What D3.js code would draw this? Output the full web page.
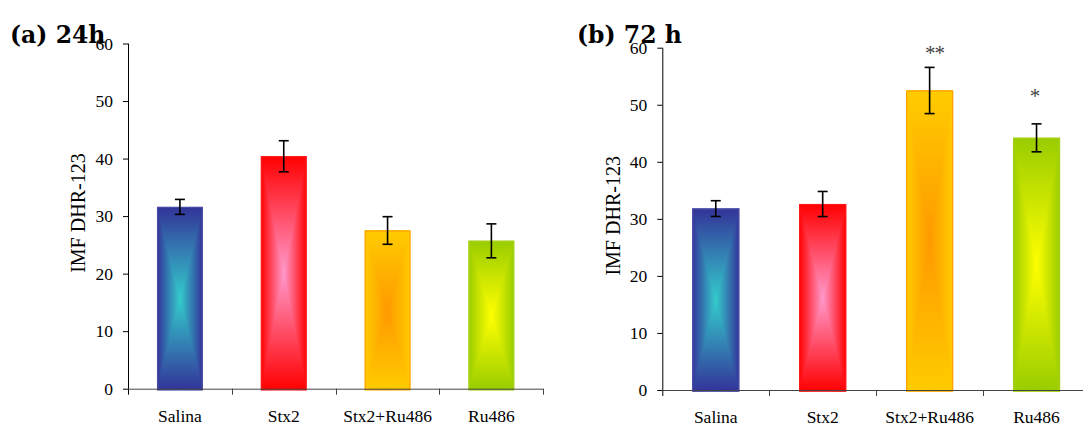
<!DOCTYPE html>
<html>
<head>
<meta charset="utf-8">
<script src="https://cdn.jsdelivr.net/npm/d3@7"></script>
<style>
  body { margin: 0; background: #fff; }
  svg { display: block; }
</style>
</head>
<body>
<svg id="chart" width="1083" height="426" font-family="Liberation Serif, Times New Roman, serif"></svg>
<script>
// Treatment groups and tick values
const categories = ["Salina", "Stx2", "Stx2+Ru486", "Ru486"];
const yTicks = [0, 10, 20, 30, 40, 50, 60];

// (a) 24 h: mean fluorescence (IMF DHR-123) and SEM
const mean24h = [31.6, 40.4, 27.5, 25.7];
const sem24h = [1.3, 2.7, 2.4, 2.95];

// (b) 72 h: mean fluorescence and SEM, with significance marks
const mean72h = [31.8, 32.6, 52.5, 44.2];
const sem72h = [1.38, 2.2, 4.05, 2.45];
const signif72h = ["", "", "**", "*"];
const signifLevel72h = [null, null, 57.8, 50.3];

// Bar fills: colour at the bar edges and at its centre
const edgeColors = ["#333399", "#ff0000", "#ffcc00", "#99cc00"];
const centreColors = ["#33cccc", "#ff99cc", "#ff9900", "#ffff00"];
const outlineColors = ["#4a4aa6", "#ff1a1a", "#ffa000", "#a6d01a"];

const SERIF = "Liberation Serif, Times New Roman, serif";
const svg = d3.select("#chart");
const defs = svg.append("defs");

// Three directional gradients per colour scheme; combined they give a
// rectangular "from centre" shading on each bar.
categories.forEach((c, i) => {
  const mk = (id, x2, y2, stops) => {
    const g = defs.append("linearGradient").attr("id", id)
      .attr("x1", 0).attr("y1", 0).attr("x2", x2).attr("y2", y2);
    stops.forEach((s, k) => g.append("stop")
      .attr("offset", k / (stops.length - 1)).attr("stop-color", s));
  };
  mk(`gh${i}`, 1, 0, [edgeColors[i], centreColors[i], edgeColors[i]]);
  mk(`gt${i}`, 0, 1, [edgeColors[i], centreColors[i]]);
  mk(`gb${i}`, 0, 1, [centreColors[i], edgeColors[i]]);
});

function drawPanel(opt) {
  const { title, titleX, left, right, top, bottom, means, sems, marks, markLevels, labelX } = opt;
  const g = svg.append("g");

  const x = d3.scaleBand().domain(categories).range([left, right]).paddingInner(0).paddingOuter(0);
  const y = d3.scaleLinear().domain([0, 60]).range([bottom, top]);
  const barW = x.bandwidth() * 0.44;
  const rows = categories.map((c, i) => ({
    c, i, mean: means[i], sem: sems[i],
    mark: marks ? marks[i] : "", level: markLevels ? markLevels[i] : null
  }));

  // bars
  g.selectAll("g.bar").data(rows).join("g").attr("class", "bar").each(function (d) {
    const b = d3.select(this);
    const x0 = x(d.c) + (x.bandwidth() - barW) / 2, x1 = x0 + barW;
    const y0 = y(d.mean), y1 = y(0) + 1.5;
    const cx = (x0 + x1) / 2, cy = (y0 + y1) / 2;
    b.append("rect").attr("x", x0).attr("y", y0).attr("width", barW).attr("height", y1 - y0)
      .attr("fill", `url(#gh${d.i})`);
    b.append("path").attr("d", `M${x0},${y0}L${x1},${y0}L${cx},${cy}Z`).attr("fill", `url(#gt${d.i})`);
    b.append("path").attr("d", `M${x0},${y1}L${x1},${y1}L${cx},${cy}Z`).attr("fill", `url(#gb${d.i})`);
    b.append("rect").attr("x", x0 + 0.5).attr("y", y0 + 0.5).attr("width", barW - 1).attr("height", y1 - y0 - 1)
      .attr("fill", "none").attr("stroke", outlineColors[d.i]).attr("stroke-width", 1.2);
  });

  // error bars
  g.selectAll("g.err").data(rows).join("g").attr("class", "err")
    .attr("stroke", "#000").attr("stroke-width", 1.6)
    .each(function (d) {
      const e = d3.select(this);
      const cx = x(d.c) + x.bandwidth() / 2;
      const hi = y(d.mean + d.sem), lo = y(d.mean - d.sem);
      e.append("line").attr("x1", cx).attr("x2", cx).attr("y1", hi).attr("y2", lo);
      e.append("line").attr("x1", cx - 5).attr("x2", cx + 5).attr("y1", hi).attr("y2", hi);
      e.append("line").attr("x1", cx - 5).attr("x2", cx + 5).attr("y1", lo).attr("y2", lo);
    });

  // significance marks
  g.selectAll("text.sig").data(rows.filter(d => d.mark)).join("text").attr("class", "sig")
    .attr("x", d => x(d.c) + x.bandwidth() / 2 + (d.mark.length > 1 ? 5 : -2))
    .attr("y", d => y(d.level))
    .attr("text-anchor", "middle").attr("font-family", SERIF).attr("font-size", 21)
    .attr("letter-spacing", -1).attr("fill", "#444")
    .text(d => d.mark);

  // y axis
  const ya = g.append("g").attr("transform", `translate(${left},0)`)
    .call(d3.axisLeft(y).tickValues(yTicks).tickSize(5).tickSizeOuter(0).tickPadding(10));
  ya.select(".domain").attr("stroke", "#000").attr("d", `M0.5,${top}V${bottom + 6}`);
  ya.selectAll(".tick line").attr("stroke", "#000");
  ya.selectAll(".tick text").attr("font-size", 17.5).attr("fill", "#000").attr("font-family", SERIF);

  // x axis
  const xa = g.append("g").attr("transform", `translate(0,${bottom})`)
    .call(d3.axisBottom(x).tickSize(0).tickPadding(21));
  xa.select(".domain").attr("stroke", "#444").attr("d", `M${left},0.5H${right}`);
  xa.selectAll(".tick text").attr("font-size", 17.5).attr("fill", "#000").attr("font-family", SERIF);
  const bounds = categories.map(c => x(c)).concat([right]);
  xa.selectAll("line.bound").data(bounds.slice(1)).join("line").attr("class", "bound")
    .attr("x1", d => Math.round(d) + 0.5).attr("x2", d => Math.round(d) + 0.5)
    .attr("y1", 0).attr("y2", 6).attr("stroke", "#444");

  // axis title
  g.append("text")
    .attr("transform", `translate(${labelX},${(top + bottom) / 2 - 3}) rotate(-90)`)
    .attr("text-anchor", "middle").attr("font-family", SERIF).attr("font-size", 20).attr("fill", "#000")
    .text("IMF DHR-123");

  // panel title
  g.append("text").attr("x", titleX).attr("y", 43)
    .attr("font-family", "DejaVu Serif, serif").attr("font-weight", "bold").attr("font-size", 23.5)
    .attr("fill", "#000").text(title);
}

drawPanel({
  title: "(a) 24h", titleX: 10,
  left: 128, right: 543.3, top: 43.5, bottom: 388.7,
  means: mean24h, sems: sem24h, labelX: 85
});

drawPanel({
  title: "(b) 72 h", titleX: 577,
  left: 662.3, right: 1090, top: 47.7, bottom: 390,
  means: mean72h, sems: sem72h, marks: signif72h, markLevels: signifLevel72h, labelX: 620
});
</script>
</body>
</html>
